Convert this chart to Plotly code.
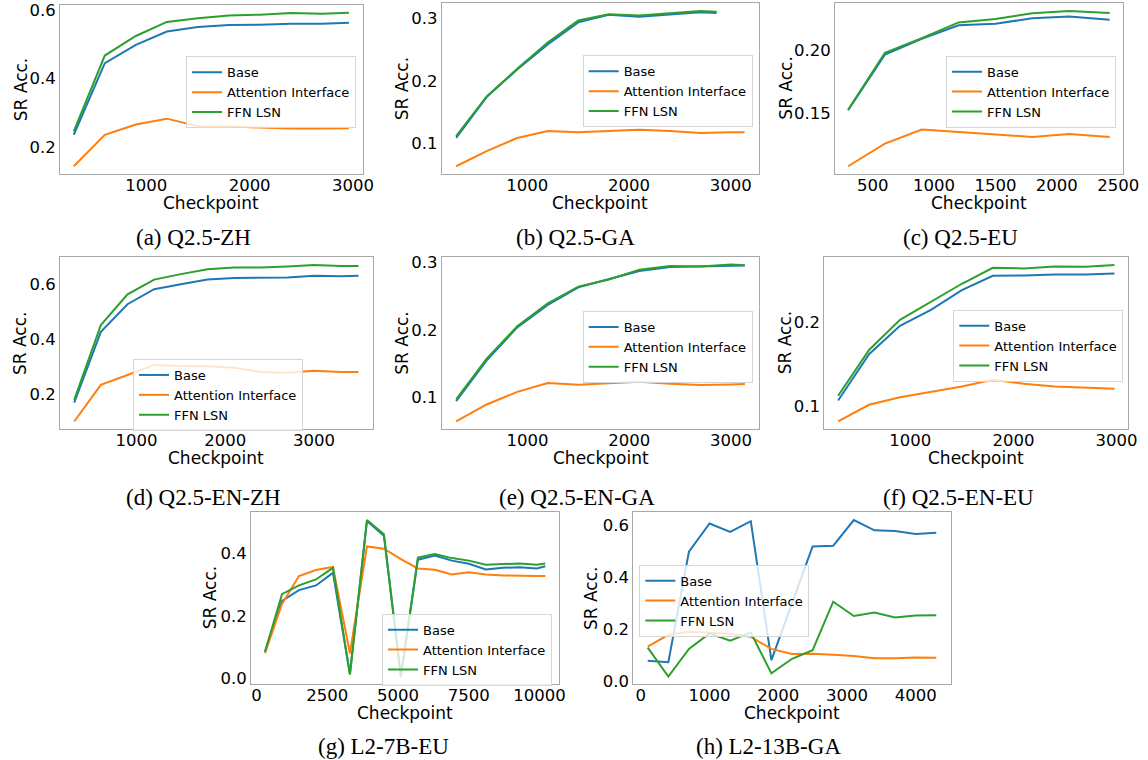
import plotly.graph_objects as go

W, H = 1148, 760

SERIES = ["Base", "Attention Interface", "FFN LSN"]
COLORS = ["#1f77b4", "#ff7f0e", "#2ca02c"]

# (a) Q2.5-ZH
A_x = [300, 600, 900, 1200, 1500, 1800, 2100, 2400, 2700, 2960]
A_base = [0.236, 0.445, 0.498, 0.537, 0.550, 0.556, 0.557, 0.560, 0.560, 0.563]
A_attn = [0.144, 0.236, 0.266, 0.283, 0.261, 0.261, 0.257, 0.254, 0.254, 0.255]
A_ffn = [0.246, 0.467, 0.524, 0.565, 0.576, 0.584, 0.586, 0.591, 0.589, 0.592]

# (b) Q2.5-GA
B_x = [300, 600, 900, 1200, 1500, 1800, 2100, 2400, 2700, 2860]
B_attn_x = [300, 600, 900, 1200, 1500, 1800, 2100, 2400, 2700, 3000, 3135]
B_base = [0.109, 0.174, 0.218, 0.258, 0.293, 0.305, 0.302, 0.306, 0.309, 0.308]
B_attn = [0.064, 0.088, 0.109, 0.120, 0.118, 0.120, 0.122, 0.120, 0.117, 0.118, 0.118]
B_ffn = [0.112, 0.175, 0.219, 0.261, 0.296, 0.306, 0.304, 0.307, 0.311, 0.310]

# (c) Q2.5-EU
C_x = [300, 600, 900, 1200, 1500, 1800, 2100, 2430]
C_base = [0.1526, 0.1966, 0.2090, 0.2197, 0.2210, 0.2253, 0.2268, 0.2242]
C_attn = [0.1084, 0.1263, 0.1374, 0.1355, 0.1332, 0.1316, 0.1339, 0.1316]
C_ffn = [0.1530, 0.1980, 0.2095, 0.2220, 0.2247, 0.2292, 0.2310, 0.2295]

# (d) Q2.5-EN-ZH
D_x = [300, 600, 900, 1200, 1500, 1800, 2100, 2400, 2700, 3000, 3300, 3500]
D_base = [0.168, 0.427, 0.528, 0.583, 0.601, 0.618, 0.624, 0.626, 0.626, 0.632, 0.630, 0.632]
D_attn = [0.099, 0.233, 0.269, 0.306, 0.302, 0.301, 0.296, 0.280, 0.277, 0.285, 0.280, 0.280]
D_ffn = [0.178, 0.452, 0.564, 0.618, 0.638, 0.656, 0.662, 0.662, 0.666, 0.671, 0.668, 0.668]

# (e) Q2.5-EN-GA
E_x = [300, 600, 900, 1200, 1500, 1800, 2100, 2400, 2700, 3000, 3135]
E_base = [0.095, 0.155, 0.2035, 0.2365, 0.2625, 0.275, 0.2865, 0.2925, 0.2935, 0.2945, 0.2945]
E_attn = [0.065, 0.090, 0.1085, 0.1215, 0.119, 0.1215, 0.1235, 0.1205, 0.1185, 0.1195, 0.120]
E_ffn = [0.0975, 0.1575, 0.205, 0.239, 0.2635, 0.274, 0.2885, 0.294, 0.293, 0.296, 0.295]

# (f) Q2.5-EN-EU
F_x = [300, 600, 900, 1200, 1500, 1800, 2100, 2400, 2700, 2980]
F_base = [0.107, 0.162, 0.1957, 0.2146, 0.238, 0.255, 0.2553, 0.2565, 0.2565, 0.2577]
F_attn = [0.0822, 0.102, 0.111, 0.1178, 0.1237, 0.1316, 0.1269, 0.1237, 0.1225, 0.121]
F_ffn = [0.1127, 0.167, 0.2028, 0.2245, 0.2455, 0.2644, 0.2636, 0.266, 0.2656, 0.2676]

# (g) L2-7B-EU
G_x = [300, 900, 1500, 2100, 2700, 3300, 3900, 4500, 5100, 5700, 6300, 6900,
       7500, 8100, 8700, 9300, 9900, 10200]
G_base = [0.086, 0.248, 0.282, 0.297, 0.337, 0.015, 0.502, 0.455, 0.007, 0.379, 0.392, 0.376,
          0.366, 0.348, 0.353, 0.355, 0.351, 0.358]
G_attn = [0.081, 0.238, 0.327, 0.346, 0.356, 0.081, 0.421, 0.414, 0.381, 0.351, 0.347, 0.332,
          0.339, 0.332, 0.329, 0.327, 0.327, 0.327]
G_ffn = [0.086, 0.269, 0.297, 0.316, 0.353, 0.013, 0.505, 0.460, 0.007, 0.386, 0.397, 0.384,
         0.376, 0.363, 0.365, 0.367, 0.363, 0.367]

# (h) L2-13B-GA
H_x = [100, 400, 700, 1000, 1300, 1600, 1900, 2200, 2500, 2800, 3100, 3400, 3700, 4000, 4300]
H_base = [0.079, 0.074, 0.498, 0.606, 0.574, 0.615, 0.082, 0.300, 0.518, 0.521, 0.619, 0.580,
          0.577, 0.566, 0.571]
H_attn = [0.134, 0.179, 0.191, 0.186, 0.183, 0.171, 0.125, 0.105, 0.106, 0.102, 0.098, 0.089,
          0.089, 0.092, 0.091]
H_ffn = [0.130, 0.019, 0.125, 0.184, 0.156, 0.188, 0.031, 0.087, 0.120, 0.306, 0.251, 0.264,
         0.245, 0.253, 0.254]

CAPTIONS = ["(a) Q2.5-ZH", "(b) Q2.5-GA", "(c) Q2.5-EU", "(d) Q2.5-EN-ZH",
            "(e) Q2.5-EN-GA", "(f) Q2.5-EN-EU", "(g) L2-7B-EU", "(h) L2-13B-GA"]

panels = [
    dict(series=[(A_x, A_base), (A_x, A_attn), (A_x, A_ffn)],
         xt=[1000, 2000, 3000], yt=[0.2, 0.4, 0.6], yfmt="{:.1f}",
         box=(60, 362.7, 5, 174), leg=(186, 59.3), ylx=20.7, cap=(193, 237)),
    dict(series=[(B_x, B_base), (B_attn_x, B_attn), (B_x, B_ffn)],
         xt=[1000, 2000, 3000], yt=[0.1, 0.2, 0.3], yfmt="{:.1f}",
         box=(441.7, 759, 3.3, 174), leg=(582.7, 58.3), ylx=401.7, cap=(575, 237)),
    dict(series=[(C_x, C_base), (C_x, C_attn), (C_x, C_ffn)],
         xt=[500, 1000, 1500, 2000, 2500], yt=[0.15, 0.20], yfmt="{:.2f}",
         box=(835, 1122.7, 3.3, 174), leg=(946, 58.7), ylx=786, cap=(960, 237)),
    dict(series=[(D_x, D_base), (D_x, D_attn), (D_x, D_ffn)],
         xt=[1000, 2000, 3000], yt=[0.2, 0.4, 0.6], yfmt="{:.1f}",
         box=(60, 372.7, 257.3, 429.3), leg=(133, 362), ylx=20.7, cap=(203.3, 497.5)),
    dict(series=[(E_x, E_base), (E_x, E_attn), (E_x, E_ffn)],
         xt=[1000, 2000, 3000], yt=[0.1, 0.2, 0.3], yfmt="{:.1f}",
         box=(441.7, 759.3, 256.7, 429.3), leg=(582.7, 314), ylx=401.7, cap=(576.7, 497.5)),
    dict(series=[(F_x, F_base), (F_x, F_attn), (F_x, F_ffn)],
         xt=[1000, 2000, 3000], yt=[0.1, 0.2], yfmt="{:.1f}",
         box=(824.3, 1128.3, 257.3, 429.3), leg=(953.3, 312.7), ylx=785, cap=(958.3, 497.5)),
    dict(series=[(G_x, G_base), (G_x, G_attn), (G_x, G_ffn)],
         xt=[0, 2500, 5000, 7500, 10000], yt=[0.0, 0.2, 0.4], yfmt="{:.1f}",
         box=(251, 559.3, 512.3, 684.3), leg=(382, 616.7), ylx=210, cap=(383.3, 746)),
    dict(series=[(H_x, H_base), (H_x, H_attn), (H_x, H_ffn)],
         xt=[0, 1000, 2000, 3000, 4000], yt=[0.0, 0.2, 0.4, 0.6], yfmt="{:.1f}",
         box=(633.3, 950.7, 512.3, 684.3), leg=(639.3, 567.7), ylx=591.7, cap=(768.3, 746)),
]

TICK_FONT = dict(family="DejaVu Sans", size=16.5, color="#000000")
TITLE_FONT = dict(family="DejaVu Sans", size=17, color="#000000")
SPINE = "#a8a8a8"

fig = go.Figure()
layout = dict(width=W, height=H, margin=dict(l=0, r=0, t=0, b=0, autoexpand=False),
              paper_bgcolor="white", plot_bgcolor="white",
              font=dict(family="DejaVu Sans", color="#000000"), annotations=[])

for i, p in enumerate(panels):
    n = "" if i == 0 else str(i + 1)
    legname = "legend" if i == 0 else "legend" + n
    xs_all = [v for s in p["series"] for v in s[0]]
    ys_all = [v for s in p["series"] for v in s[1]]
    xmin, xmax = min(xs_all), max(xs_all)
    ymin, ymax = min(ys_all), max(ys_all)
    xpad = 0.05 * (xmax - xmin)
    ypad = 0.05 * (ymax - ymin)
    for k, (xs, ys) in enumerate(p["series"]):
        fig.add_trace(go.Scatter(
            x=xs, y=ys, mode="lines", name=SERIES[k],
            line=dict(color=COLORS[k], width=2),
            xaxis="x" + n, yaxis="y" + n, legend=legname, showlegend=True,
            hoverinfo="skip"))
    x0, x1, y0, y1 = p["box"]
    layout["xaxis" + n] = dict(
        domain=[x0 / W, x1 / W], anchor="y" + n, range=[xmin - xpad, xmax + xpad],
        tickvals=p["xt"], ticktext=[str(v) for v in p["xt"]],
        showline=True, mirror=True, linecolor=SPINE, linewidth=1,
        ticks="", showgrid=False, zeroline=False, automargin=False,
        ticklabelstandoff=-4, tickfont=TICK_FONT)
    layout["yaxis" + n] = dict(
        domain=[1 - y1 / H, 1 - y0 / H], anchor="x" + n, range=[ymin - ypad, ymax + ypad],
        tickvals=p["yt"], ticktext=[p["yfmt"].format(v) for v in p["yt"]],
        showline=True, mirror=True, linecolor=SPINE, linewidth=1,
        ticks="", showgrid=False, zeroline=False, automargin=False,
        tickfont=TICK_FONT)
    lx, ly = p["leg"]
    layout[legname] = dict(
        x=lx / W, y=1 - (ly - 3) / H, xanchor="left", yanchor="top",
        bgcolor="rgba(255,255,255,0.8)", bordercolor="#d6d6d6", borderwidth=1,
        font=dict(family="DejaVu Sans", size=13, color="#000000"),
        itemwidth=30, tracegroupgap=0)
    # axis titles
    layout["annotations"].append(dict(
        text="Checkpoint", xref="paper", yref="paper", x=(x0 + x1) / 2 / W,
        y=1 - (y1 + 29) / H, xanchor="center", yanchor="middle", showarrow=False,
        font=TITLE_FONT))
    layout["annotations"].append(dict(
        text="SR Acc.", xref="paper", yref="paper", x=p["ylx"] / W,
        y=1 - (y0 + y1) / 2 / H, xanchor="center", yanchor="middle", showarrow=False,
        textangle=-90, font=TITLE_FONT))
    cx, cy = p["cap"]
    layout["annotations"].append(dict(
        text=CAPTIONS[i], xref="paper", yref="paper", x=cx / W, y=1 - cy / H,
        xanchor="center", yanchor="middle", showarrow=False,
        font=dict(family="Liberation Serif", size=23, color="#000000")))

fig.update_layout(**layout)
fig.write_html(
    "out.html",
    config={"displayModeBar": False, "staticPlot": True},
    post_script="document.body.style.margin='0';document.body.style.padding='0';"
                "document.documentElement.style.overflow='hidden';")
